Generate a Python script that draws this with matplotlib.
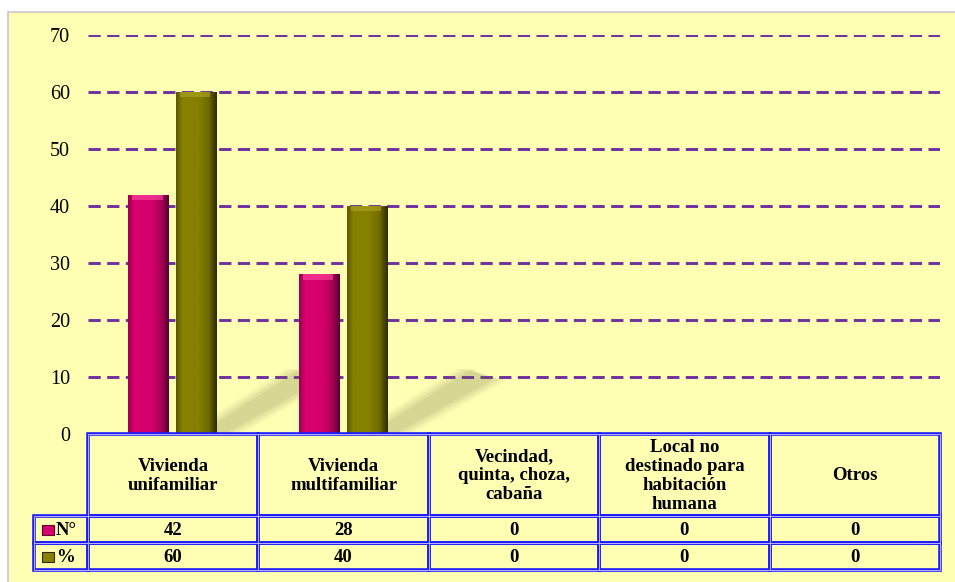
import numpy as np
import matplotlib
matplotlib.use("Agg")
import matplotlib.pyplot as plt
from matplotlib.patches import Rectangle, Polygon
from matplotlib.colors import LinearSegmentedColormap

# ---------------- data ----------------
categories = ["Vivienda\nunifamiliar", "Vivienda\nmultifamiliar",
              "Vecindad,\nquinta, choza,\ncabaña",
              "Local no\ndestinado para\nhabitación\nhumana", "Otros"]
series_names = ["N°", "%"]
n_values = [42, 28, 0, 0, 0]
pct_values = [60, 40, 0, 0, 0]
yticks = [0, 10, 20, 30, 40, 50, 60, 70]

# ---------------- style ----------------
W_PX, H_PX = 955, 582
BG = "#FFFFB4"
MAG = ["#9c0052", "#d8006e", "#d6006c", "#b0005a", "#5a0030"]
OLV = ["#5c5800", "#878000", "#858000", "#6e6a00", "#2e2c00"]
GRID = "#7030A0"
BLUE = "#1c1cff"
LAV = "#b8b0ff"
SERIF = ["Liberation Serif", "DejaVu Serif"]

fig = plt.figure(figsize=(W_PX / 100, H_PX / 100), dpi=100)
fig.patch.set_facecolor("white")

# background panel (pixel coordinates)
bg = fig.add_axes([0, 0, 1, 1])
bg.set_xlim(0, W_PX)
bg.set_ylim(H_PX, 0)
bg.axis("off")
bg.add_patch(Rectangle((8, 12), W_PX + 20, H_PX + 20, facecolor=BG,
                       edgecolor="#c8c8c8", lw=1.2, zorder=0))

# main axes
AX_L, AX_R, AX_T, AX_B = 88, 940, 35, 434
ax = fig.add_axes([AX_L / W_PX, 1 - AX_B / H_PX, (AX_R - AX_L) / W_PX, (AX_B - AX_T) / H_PX])
ax.set_facecolor("none")
ax.set_xlim(-0.5, len(categories) - 0.5)
ax.set_ylim(0, 70)
for s in ax.spines.values():
    s.set_visible(False)
ax.set_xticks([])
ax.set_yticks(yticks)
ax.set_yticklabels([str(t) for t in yticks], fontfamily=SERIF, fontsize=14.5)
ax.tick_params(axis="y", length=0, pad=13)
for t in yticks[1:]:
    ax.axhline(t, color=GRID, lw=2.1, ls=(0, (4.2, 2.2)), zorder=1)

x = np.arange(len(categories))
width = 0.235
offs = [-0.145, 0.135]


def grad_bar(patch, cols, top_col):
    x0, y0 = patch.get_x(), patch.get_y()
    w, h = patch.get_width(), patch.get_height()
    if h <= 0:
        return
    cmap = LinearSegmentedColormap.from_list("g", list(zip([0, 0.15, 0.55, 0.8, 1.0], cols)))
    img = np.linspace(0, 1, 64).reshape(1, -1)
    im = ax.imshow(img, cmap=cmap, extent=[x0, x0 + w, y0, y0 + h], aspect="auto",
                   zorder=3, interpolation="bilinear")
    im.set_clip_path(patch)
    ax.add_patch(Rectangle((x0 + w * 0.1, y0 + h - 0.9), w * 0.75, 0.9,
                           facecolor=top_col, edgecolor="none", alpha=0.6, zorder=4))


def shadow(xr, h):
    # soft diagonal cast shadow starting at the right base of a bar group
    if h <= 0:
        return
    for k, a in enumerate([0.06, 0.07, 0.08, 0.09]):
        d = 0.03 * (3 - k)
        poly = Polygon([(xr - 0.1 - d, 0), (xr + 0.05 + d, 0),
                        (xr + 0.62 + d, 9.5), (xr + 0.5 - d, 11.5)],
                       closed=True, facecolor="#6e6e40", edgecolor="none",
                       alpha=a, zorder=1.5)
        ax.add_patch(poly)


for i in range(len(categories)):
    shadow(i + offs[1] + width / 2, max(n_values[i], pct_values[i]))

for vals, off, cols, topc in [(n_values, offs[0], MAG, "#ff4aa0"),
                              (pct_values, offs[1], OLV, "#b0a820")]:
    bars = ax.bar(x + off, vals, width=width, color=cols[1], zorder=2, lw=0)
    for b in bars:
        grad_bar(b, cols, topc)
ax.set_xlim(-0.5, len(categories) - 0.5)
ax.set_ylim(0, 70)

# ---------------- data table (pixel coords) ----------------
tab = fig.add_axes([0, 0, 1, 1])
tab.set_xlim(0, W_PX)
tab.set_ylim(H_PX, 0)
tab.axis("off")
tab.set_zorder(5)

ncat = len(categories)
col_w = (AX_R - AX_L) / ncat
edges = [AX_L + i * col_w for i in range(ncat + 1)]
LEG_L = 34
ROW_Y = [434, 516, 543, 570]


def cell(x0, y0, x1, y1):
    tab.add_patch(Rectangle((x0, y0), x1 - x0, y1 - y0, facecolor="none",
                            edgecolor=BLUE, lw=2.6, zorder=2))
    tab.add_patch(Rectangle((x0, y0), x1 - x0, y1 - y0, facecolor="none",
                            edgecolor=LAV, lw=0.7, zorder=3))


for i, cat in enumerate(categories):
    cell(edges[i], ROW_Y[0], edges[i + 1], ROW_Y[1])
    tab.text((edges[i] + edges[i + 1]) / 2, (ROW_Y[0] + ROW_Y[1]) / 2 + 1, cat,
             ha="center", va="center", fontfamily=SERIF, fontweight="bold",
             fontsize=13.5, linespacing=1.15, zorder=4)

for r, (name, vals, cols) in enumerate([(series_names[0], n_values, MAG),
                                        (series_names[1], pct_values, OLV)]):
    y0, y1 = ROW_Y[r + 1], ROW_Y[r + 2]
    cell(LEG_L, y0, edges[0], y1)
    ym = (y0 + y1) / 2
    tab.add_patch(Rectangle((42, ym - 5), 12, 10, facecolor=cols[1],
                            edgecolor=cols[4], lw=0.8, zorder=4))
    tab.text(56, ym + 1, name, ha="left", va="center", fontfamily=SERIF,
             fontweight="bold", fontsize=13.5, zorder=4)
    for i, v in enumerate(vals):
        cell(edges[i], y0, edges[i + 1], y1)
        tab.text((edges[i] + edges[i + 1]) / 2, ym + 1, str(v), ha="center", va="center",
                 fontfamily=SERIF, fontweight="bold", fontsize=13.5, zorder=4)

fig.savefig("out.png", dpi=100, facecolor=fig.get_facecolor())
